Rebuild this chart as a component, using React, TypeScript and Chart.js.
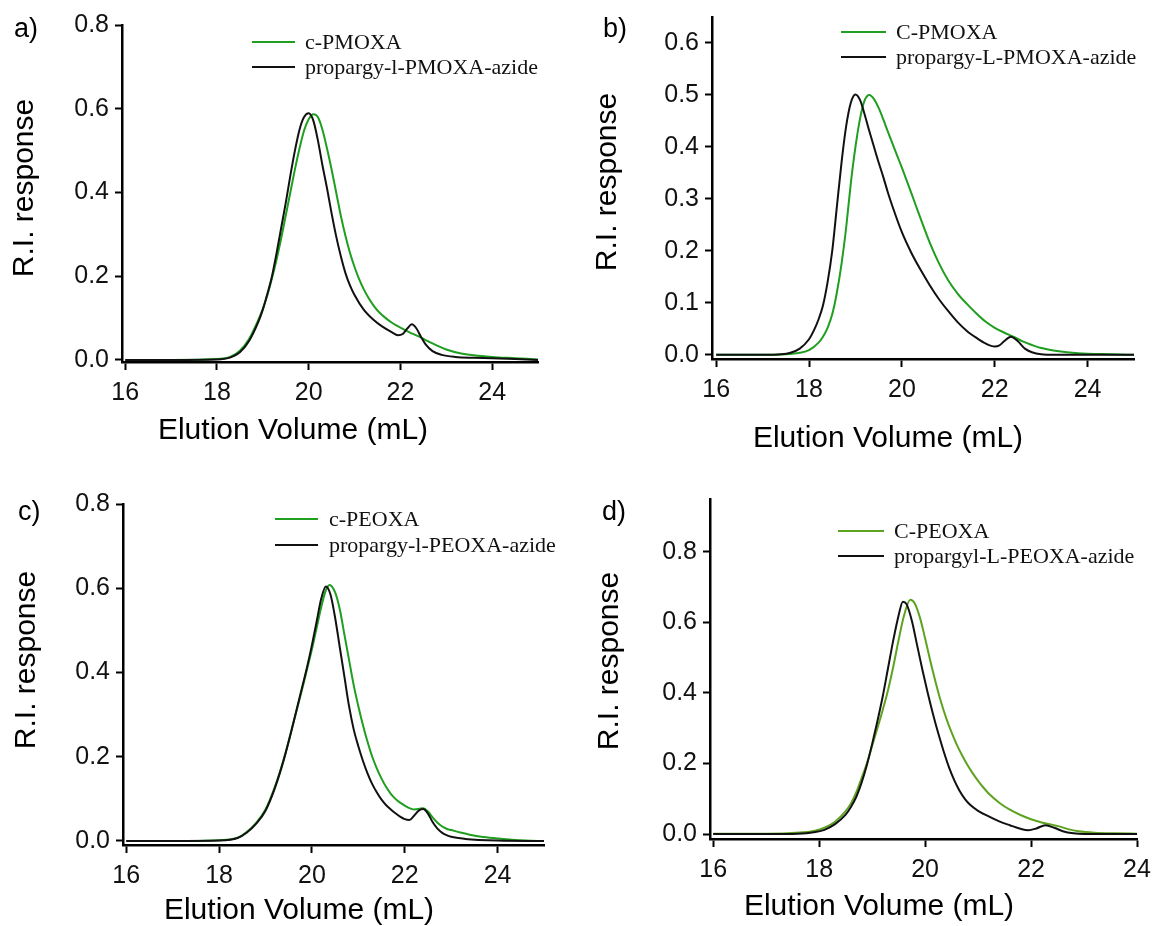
import React, { useEffect, useRef } from "react";
import { Chart, registerables } from "chart.js";

Chart.register(...registerables);

// ---------- DATA ----------
const X_TICKS = [16, 18, 20, 22, 24];
const Y_TICKS_A = [0, 0.2, 0.4, 0.6, 0.8];
const Y_TICKS_B = [0, 0.1, 0.2, 0.3, 0.4, 0.5, 0.6];
const Y_TICKS_C = [0, 0.2, 0.4, 0.6, 0.8];
const Y_TICKS_D = [0, 0.2, 0.4, 0.6, 0.8];

const X_TITLE = "Elution Volume (mL)";
const Y_TITLE = "R.I. response";

// a) PMOXA
const A_LEGEND = ["c-PMOXA", "propargy-l-PMOXA-azide"];
const A_GREEN_X = [16, 17, 18, 18.3, 18.5, 18.7, 18.9, 19.0, 19.1, 19.2, 19.3, 19.4, 19.5, 19.6, 19.7, 19.8, 19.9, 20.0, 20.1, 20.2, 20.3, 20.4, 20.5, 20.6, 20.7, 20.8, 20.9, 21.0, 21.1, 21.2, 21.3, 21.4, 21.5, 21.6, 21.7, 21.8, 21.9, 22.0, 22.2, 22.4, 22.6, 22.8, 23.0, 23.3, 23.6, 24.0, 24.5, 25];
const A_GREEN_Y = [0, 0, 0.002, 0.008, 0.022, 0.05, 0.095, 0.122, 0.155, 0.195, 0.24, 0.29, 0.345, 0.4, 0.455, 0.505, 0.548, 0.575, 0.587, 0.58, 0.55, 0.505, 0.455, 0.4, 0.345, 0.297, 0.256, 0.222, 0.193, 0.169, 0.149, 0.132, 0.118, 0.107, 0.098, 0.09, 0.083, 0.077, 0.066, 0.056, 0.045, 0.034, 0.025, 0.016, 0.011, 0.007, 0.004, 0.001];
const A_BLACK_X = [16, 17, 18, 18.3, 18.5, 18.7, 18.9, 19.0, 19.1, 19.2, 19.3, 19.4, 19.5, 19.6, 19.7, 19.8, 19.9, 20.0, 20.1, 20.2, 20.3, 20.4, 20.5, 20.6, 20.7, 20.8, 20.9, 21.0, 21.2, 21.4, 21.6, 21.8, 21.95, 22.05, 22.15, 22.25, 22.35, 22.45, 22.55, 22.7, 22.9, 23.2, 23.6, 24, 24.5, 25];
const A_BLACK_Y = [0, 0, 0.001, 0.006, 0.018, 0.045, 0.09, 0.12, 0.158, 0.2, 0.255, 0.315, 0.375, 0.44, 0.5, 0.55, 0.58, 0.589, 0.572, 0.525, 0.465, 0.41, 0.35, 0.295, 0.248, 0.208, 0.178, 0.155, 0.12, 0.097, 0.08, 0.067, 0.059, 0.062, 0.075, 0.085, 0.075, 0.055, 0.037, 0.021, 0.012, 0.007, 0.005, 0.004, 0.002, 0];

// b) PMOXA (second batch)
const B_LEGEND = ["C-PMOXA", "propargy-L-PMOXA-azide"];
const B_GREEN_X = [16, 17, 17.5, 17.8, 18.0, 18.2, 18.3, 18.4, 18.5, 18.6, 18.7, 18.8, 18.9, 19.0, 19.1, 19.2, 19.3, 19.4, 19.5, 19.6, 19.7, 19.8, 19.9, 20.0, 20.2, 20.4, 20.6, 20.8, 21.0, 21.2, 21.4, 21.6, 21.8, 22.0, 22.2, 22.4, 22.6, 22.8, 23.0, 23.3, 23.8, 24.5, 25];
const B_GREEN_Y = [0, 0, 0.001, 0.004, 0.009, 0.023, 0.035, 0.052, 0.078, 0.12, 0.175, 0.245, 0.33, 0.4, 0.455, 0.49, 0.5, 0.492, 0.475, 0.453, 0.429, 0.406, 0.383, 0.36, 0.312, 0.263, 0.216, 0.176, 0.143, 0.118, 0.098, 0.08, 0.064, 0.052, 0.043, 0.035, 0.026, 0.019, 0.013, 0.008, 0.003, 0.001, 0];
const B_BLACK_X = [16, 17, 17.4, 17.6, 17.8, 18.0, 18.1, 18.2, 18.3, 18.4, 18.5, 18.6, 18.7, 18.8, 18.9, 19.0, 19.1, 19.2, 19.3, 19.4, 19.5, 19.6, 19.7, 19.8, 20.0, 20.2, 20.4, 20.6, 20.8, 21.0, 21.2, 21.4, 21.6, 21.8, 22.0, 22.1, 22.2, 22.35, 22.5, 22.65, 22.8, 23.0, 23.3, 25];
const B_BLACK_Y = [0, 0, 0.001, 0.004, 0.012, 0.03, 0.046, 0.067, 0.095, 0.14, 0.2, 0.285, 0.37, 0.44, 0.485, 0.501, 0.49, 0.462, 0.43, 0.4, 0.37, 0.342, 0.312, 0.285, 0.236, 0.197, 0.164, 0.134, 0.107, 0.084, 0.063, 0.046, 0.033, 0.022, 0.016, 0.018, 0.026, 0.035, 0.026, 0.012, 0.005, 0.001, 0, 0];

// c) PEOXA
const C_LEGEND = ["c-PEOXA", "propargy-l-PEOXA-azide"];
const C_GREEN_X = [16, 17, 18.0, 18.4, 18.6, 18.8, 19.0, 19.2, 19.4, 19.6, 19.8, 19.9, 20.0, 20.1, 20.2, 20.3, 20.38, 20.5, 20.6, 20.7, 20.8, 20.9, 21.0, 21.1, 21.2, 21.3, 21.4, 21.5, 21.6, 21.7, 21.8, 21.9, 22.0, 22.1, 22.2, 22.3, 22.4, 22.5, 22.6, 22.7, 22.8, 22.9, 23.0, 23.2, 23.4, 23.65, 24.0, 24.3, 24.6, 25];
const C_GREEN_Y = [0, 0, 0.002, 0.008, 0.022, 0.043, 0.075, 0.128, 0.197, 0.28, 0.365, 0.41, 0.455, 0.505, 0.555, 0.595, 0.608, 0.59, 0.55, 0.49, 0.43, 0.37, 0.32, 0.275, 0.235, 0.2, 0.172, 0.148, 0.128, 0.112, 0.1, 0.091, 0.084, 0.078, 0.075, 0.076, 0.078, 0.07, 0.056, 0.044, 0.035, 0.029, 0.026, 0.02, 0.015, 0.01, 0.006, 0.003, 0.001, 0];
const C_BLACK_X = [16, 17, 18.0, 18.4, 18.6, 18.8, 19.0, 19.2, 19.4, 19.6, 19.8, 19.9, 20.0, 20.1, 20.2, 20.3, 20.4, 20.5, 20.6, 20.7, 20.8, 20.9, 21.0, 21.1, 21.2, 21.3, 21.4, 21.5, 21.6, 21.7, 21.8, 21.9, 22.0, 22.1, 22.2, 22.3, 22.4, 22.5, 22.6, 22.7, 22.8, 22.9, 23.0, 23.3, 24, 25];
const C_BLACK_Y = [0, 0, 0.001, 0.007, 0.02, 0.041, 0.072, 0.125, 0.195, 0.28, 0.37, 0.415, 0.465, 0.52, 0.575, 0.604, 0.585, 0.53, 0.46, 0.39, 0.32, 0.265, 0.225, 0.19, 0.16, 0.135, 0.115, 0.098, 0.085, 0.075, 0.066, 0.058, 0.052, 0.05, 0.06, 0.072, 0.076, 0.065, 0.045, 0.03, 0.02, 0.014, 0.01, 0.005, 0.001, 0];

// d) PEOXA (second batch)
const D_LEGEND = ["C-PEOXA", "propargyl-L-PEOXA-azide"];
const D_GREEN_X = [16, 17, 17.4, 17.7, 17.9, 18.1, 18.3, 18.5, 18.6, 18.7, 18.8, 18.9, 19.0, 19.1, 19.2, 19.3, 19.4, 19.5, 19.6, 19.72, 19.8, 19.9, 20.0, 20.1, 20.2, 20.3, 20.4, 20.5, 20.6, 20.7, 20.8, 20.9, 21.0, 21.1, 21.2, 21.4, 21.6, 21.8, 22.0, 22.2, 22.4, 22.55, 22.7, 22.9, 23.2, 23.6, 24];
const D_GREEN_Y = [0.001, 0.001, 0.002, 0.005, 0.009, 0.018, 0.035, 0.065, 0.087, 0.118, 0.158, 0.2, 0.25, 0.3, 0.352, 0.408, 0.475, 0.55, 0.618, 0.664, 0.655, 0.615, 0.555, 0.49, 0.43, 0.375, 0.328, 0.288, 0.253, 0.223, 0.196, 0.172, 0.151, 0.132, 0.115, 0.089, 0.069, 0.054, 0.042, 0.033, 0.026, 0.021, 0.014, 0.008, 0.004, 0.002, 0.001];
const D_BLACK_X = [16, 17, 17.6, 17.9, 18.1, 18.3, 18.5, 18.6, 18.7, 18.8, 18.9, 19.0, 19.1, 19.2, 19.3, 19.4, 19.5, 19.58, 19.65, 19.75, 19.85, 19.95, 20.05, 20.15, 20.25, 20.35, 20.45, 20.55, 20.65, 20.75, 20.85, 21.0, 21.2, 21.4, 21.6, 21.8, 21.95, 22.1, 22.27, 22.45, 22.6, 22.8, 23.0, 24];
const D_BLACK_Y = [0, 0, 0.001, 0.005, 0.012, 0.028, 0.055, 0.077, 0.105, 0.145, 0.195, 0.255, 0.32, 0.39, 0.47, 0.55, 0.62, 0.659, 0.652, 0.605, 0.535, 0.465, 0.4, 0.34, 0.285, 0.235, 0.19, 0.153, 0.123, 0.1, 0.083, 0.066, 0.05, 0.036, 0.025, 0.015, 0.011, 0.016, 0.025, 0.017, 0.008, 0.002, 0, 0];

// ---------- STYLE / LAYOUT ----------
const SANS = '"Liberation Sans", Arial, Helvetica, sans-serif';
const SERIF = '"Liberation Serif", "Times New Roman", serif';
const GREEN = "#1f9e1f";
const OLIVE = "#5ea320";
const BLACK = "#111111";

type PanelCfg = {
  label: string;
  left: number;
  top: number;
  legend: string[];
  green: string;
  gx: number[]; gy: number[]; bx: number[]; by: number[];
  xMin: number; xMax: number; yMin: number; yMax: number;
  yTicks: number[];
  pad: { left: number; right: number; top: number; bottom: number };
  labelPos: [number, number];
  yTitlePos: [number, number];
  xTitlePos: [number, number];
  legendLine: [number, number];
  legendText: number;
  legendRows: [number, number];
};

const PANELS: PanelCfg[] = [
  {
    label: "a)", left: 0, top: 0, legend: A_LEGEND, green: GREEN,
    gx: A_GREEN_X, gy: A_GREEN_Y, bx: A_BLACK_X, by: A_BLACK_Y,
    xMin: 15.93, xMax: 25, yMin: -0.005, yMax: 0.8, yTicks: Y_TICKS_A,
    pad: { left: 62, right: 42, top: 25, bottom: 41 },
    labelPos: [14, 30], yTitlePos: [25, 188], xTitlePos: [293, 431],
    legendLine: [252, 295], legendText: 305, legendRows: [42, 67],
  },
  {
    label: "b)", left: 580, top: 0, legend: B_LEGEND, green: GREEN,
    gx: B_GREEN_X, gy: B_GREEN_Y, bx: B_BLACK_X, by: B_BLACK_Y,
    xMin: 15.91, xMax: 25, yMin: -0.008, yMax: 0.65, yTicks: Y_TICKS_B,
    pad: { left: 72, right: 26, top: 17, bottom: 44 },
    labelPos: [23, 30], yTitlePos: [28, 182], xTitlePos: [308, 439],
    legendLine: [261, 306], legendText: 316, legendRows: [32, 57],
  },
  {
    label: "c)", left: 0, top: 463, legend: C_LEGEND, green: GREEN,
    gx: C_GREEN_X, gy: C_GREEN_Y, bx: C_BLACK_X, by: C_BLACK_Y,
    xMin: 15.93, xMax: 25, yMin: -0.0095, yMax: 0.8, yTicks: Y_TICKS_C,
    pad: { left: 63, right: 36, top: 41, bottom: 21 },
    labelPos: [18, 50], yTitlePos: [27, 197], xTitlePos: [299, 448],
    legendLine: [275, 318], legendText: 329, legendRows: [56, 82],
  },
  {
    label: "d)", left: 580, top: 463, legend: D_LEGEND, green: OLIVE,
    gx: D_GREEN_X, gy: D_GREEN_Y, bx: D_BLACK_X, by: D_BLACK_Y,
    xMin: 15.94, xMax: 24, yMin: -0.014, yMax: 0.95, yTicks: Y_TICKS_D,
    pad: { left: 70, right: 23, top: 36, bottom: 27 },
    labelPos: [22, 50], yTitlePos: [30, 198], xTitlePos: [299, 444],
    legendLine: [258, 304], legendText: 314, legendRows: [68, 93],
  },
];

function makeAnnotations(p: PanelCfg) {
  return {
    id: "annot_" + p.label,
    afterDraw(chart: any) {
      const ctx: CanvasRenderingContext2D = chart.ctx;
      ctx.save();
      ctx.fillStyle = "#000";
      ctx.textBaseline = "middle";
      // panel label
      ctx.font = `27px ${SANS}`;
      ctx.textAlign = "left";
      ctx.fillText(p.label, p.labelPos[0], p.labelPos[1]);
      // x title
      ctx.font = `30px ${SANS}`;
      ctx.textAlign = "center";
      ctx.fillText(X_TITLE, p.xTitlePos[0], p.xTitlePos[1]);
      // y title
      ctx.save();
      ctx.translate(p.yTitlePos[0], p.yTitlePos[1]);
      ctx.rotate(-Math.PI / 2);
      ctx.fillText(Y_TITLE, 0, 0);
      ctx.restore();
      // legend
      const colors = [p.green, BLACK];
      ctx.font = `22px ${SERIF}`;
      ctx.textAlign = "left";
      for (let i = 0; i < 2; i++) {
        const y = p.legendRows[i];
        ctx.strokeStyle = colors[i];
        ctx.lineWidth = 2;
        ctx.beginPath();
        ctx.moveTo(p.legendLine[0], y);
        ctx.lineTo(p.legendLine[1], y);
        ctx.stroke();
        ctx.fillStyle = "#111";
        ctx.fillText(p.legend[i], p.legendText, y + 1);
      }
      ctx.restore();
    },
  };
}

function Panel({ cfg }: { cfg: PanelCfg }) {
  const ref = useRef<HTMLCanvasElement>(null);
  useEffect(() => {
    const toPts = (xs: number[], ys: number[]) => xs.map((x, i) => ({ x, y: ys[i] }));
    const chart = new Chart(ref.current as HTMLCanvasElement, {
      type: "line",
      data: {
        datasets: [
          {
            label: cfg.legend[1],
            data: toPts(cfg.bx, cfg.by),
            borderColor: BLACK,
            borderWidth: 2,
            pointRadius: 0,
            cubicInterpolationMode: "monotone",
            fill: false,
          },
          {
            label: cfg.legend[0],
            data: toPts(cfg.gx, cfg.gy),
            borderColor: cfg.green,
            borderWidth: 2,
            pointRadius: 0,
            cubicInterpolationMode: "monotone",
            fill: false,
          },
        ],
      },
      options: {
        responsive: false,
        animation: false,
        devicePixelRatio: 1,
        layout: { padding: cfg.pad },
        plugins: { legend: { display: false }, tooltip: { enabled: false } },
        scales: {
          x: {
            type: "linear",
            min: cfg.xMin,
            max: cfg.xMax,
            afterBuildTicks: (s: any) => {
              s.ticks = X_TICKS.map((v) => ({ value: v }));
            },
            afterFit: (s: any) => {
              s.height = 60;
              s.paddingLeft = 0;
              s.paddingRight = 0;
            },
            grid: { drawOnChartArea: false, drawTicks: true, tickLength: 8, tickWidth: 2, tickColor: "#000" },
            border: { display: true, color: "#000", width: 2.5 },
            ticks: {
              color: "#111",
              font: { family: SANS, size: 25 },
              padding: 8,
              maxRotation: 0,
              autoSkip: false,
              callback: (v: any) => String(v),
            },
          },
          y: {
            type: "linear",
            min: cfg.yMin,
            max: cfg.yMax,
            afterBuildTicks: (s: any) => {
              s.ticks = cfg.yTicks.map((v) => ({ value: v }));
            },
            afterFit: (s: any) => {
              s.width = 60;
              s.paddingTop = 0;
              s.paddingBottom = 0;
            },
            grid: { drawOnChartArea: false, drawTicks: true, tickLength: 7, tickWidth: 2, tickColor: "#000" },
            border: { display: true, color: "#000", width: 2.5 },
            ticks: {
              color: "#111",
              font: { family: SANS, size: 25 },
              padding: 6,
              autoSkip: false,
              callback: (v: any) => Number(v).toFixed(1),
            },
          },
        },
      } as any,
      plugins: [makeAnnotations(cfg)],
    });
    return () => chart.destroy();
  }, [cfg]);
  return (
    <canvas
      ref={ref}
      width={580}
      height={463}
      style={{ position: "absolute", left: cfg.left, top: cfg.top, width: 580, height: 463 }}
    />
  );
}

export default function App() {
  return (
    <div style={{ position: "absolute", left: 0, top: 0, width: 1160, height: 926, background: "#fff" }}>
      {PANELS.map((p) => (
        <Panel key={p.label} cfg={p} />
      ))}
    </div>
  );
}
